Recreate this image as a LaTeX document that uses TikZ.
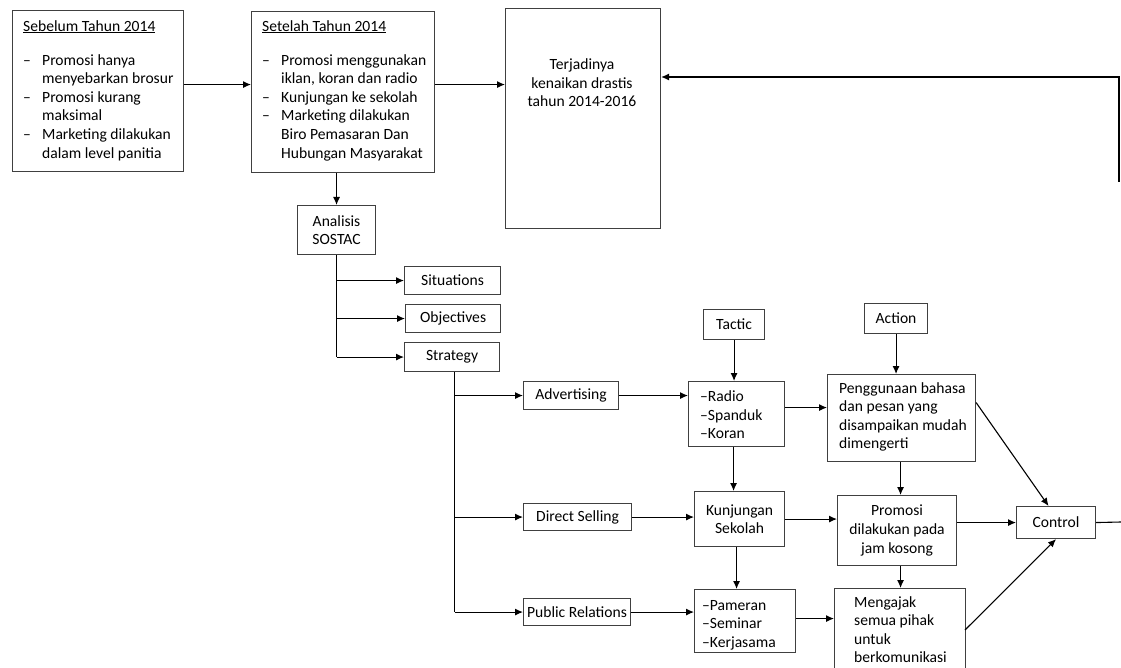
\documentclass[tikz,border=0pt]{standalone}
\usepackage{fontspec}
\setmainfont{Carlito}
\usetikzlibrary{arrows.meta,calc}
\newcommand{\dsh}{\makebox[19pt][l]{–}}
\newcommand{\ind}{\hspace*{19pt}}
\begin{document}
\begin{tikzpicture}[x=1pt,y=-1pt,
  every node/.style={font=\fontsize{15.6}{18.6}\selectfont},
  box/.style={draw=black!75,line width=1.1pt,anchor=north west,inner sep=0pt},
  txt/.style={inner sep=0pt},
  arr/.style={line width=1.1pt,-{Latex[length=8pt,width=7pt]}},
  ln/.style={line width=1.1pt}]
\fill[white] (0,0) rectangle (1121,668);
\useasboundingbox (0,0) rectangle (1121,668);

% top row
\node[box,minimum width=171pt,minimum height=161pt] (sebelum) at (12,10) {};
\node[txt,anchor=north west,align=left] (sebelumtxt) at (23,20)
 {\underline{Sebelum Tahun 2014}\\[15.5pt]
  \dsh Promosi hanya\\ \ind menyebarkan brosur\\
  \dsh Promosi kurang\\ \ind maksimal\\
  \dsh Marketing dilakukan\\ \ind dalam level panitia};
\node[box,minimum width=183pt,minimum height=161pt] (setelah) at (251,11) {};
\node[txt,anchor=north west,align=left] (setelahtxt) at (262,20)
 {\underline{Setelah Tahun 2014}\\[15.5pt]
  \dsh Promosi menggunakan\\ \ind iklan, koran dan radio\\
  \dsh Kunjungan ke sekolah\\
  \dsh Marketing dilakukan\\ \ind Biro Pemasaran Dan\\ \ind Hubungan Masyarakat};
\node[box,minimum width=155pt,minimum height=220pt] (terjadi) at (505,8) {};
\node[txt,align=center] (terjaditxt) at (582,83) {Terjadinya\\kenaikan drastis\\tahun 2014-2016};

% SOSTAC
\node[box,minimum width=78pt,minimum height=49pt,align=center] (analisis) at (297,205) {Analisis\\SOSTAC};
\node[box,minimum width=96pt,minimum height=28pt] (situations) at (404,266) {Situations};
\node[box,minimum width=95pt,minimum height=28pt] (objectives) at (405,304) {Objectives};
\node[box,minimum width=95pt,minimum height=29pt] (strategy) at (404,342) {Strategy};

% tactic / action
\node[box,minimum width=61pt,minimum height=30pt] (tactic) at (703,309) {Tactic};
\node[box,minimum width=63pt,minimum height=30pt] (action) at (864,303) {Action};

\node[box,minimum width=95pt,minimum height=28pt] (advertising) at (523,381) {Advertising};
\node[box,minimum width=96pt,minimum height=65pt] (radio) at (688,381) {};
\node[txt,anchor=west,align=left] (radiotxt) at (700,415) {–Radio\\–Spanduk\\–Koran};
\node[box,minimum width=148pt,minimum height=87pt] (penggunaan) at (827,374) {};
\node[txt,anchor=west,align=left] (penggunaantxt) at (839,417) {Penggunaan bahasa\\dan pesan yang\\disampaikan mudah\\dimengerti};

\node[box,minimum width=108pt,minimum height=27pt] (direct) at (523,503) {Direct Selling};
\node[box,minimum width=90pt,minimum height=55pt,align=center] (kunjungan) at (694,491) {Kunjungan\\Sekolah};
\node[box,minimum width=119pt,minimum height=70pt,align=center] (promosi) at (837,495) {Promosi\\dilakukan pada\\jam kosong};
\node[box,minimum width=79pt,minimum height=32pt] (control) at (1016,506) {Control};

\node[box,minimum width=107pt,minimum height=27pt] (public) at (523,598) {Public Relations};
\node[box,minimum width=101pt,minimum height=63pt] (pameran) at (694,589) {};
\node[txt,anchor=west,align=left] (pamerantxt) at (702,625) {–Pameran\\–Seminar\\–Kerjasama};
\node[box,minimum width=131pt,minimum height=100pt] (mengajak) at (834,588) {};
\node[txt,anchor=north west,align=left] (mengajaktxt) at (854,596) {Mengajak\\semua pihak\\untuk\\berkomunikasi};

% connectors top
\coordinate (a1) at ([yshift=6.5pt]sebelum.east);
\draw[arr] (a1) -- (a1 -| setelah.west);
\coordinate (a2) at ([yshift=7.5pt]setelah.east);
\draw[arr] (a2) -- (a2 -| terjadi.west);
\draw[arr] (analisis.north |- setelah.south) -- (analisis.north);

% feedback
\coordinate (fb1) at (1119,182);
\coordinate (fb2) at (1119,77);
\draw[arr] (fb1) -- (fb2) -- (fb2 -| terjadi.east);

% SOSTAC branches
\draw[ln] (analisis.south) -- (analisis.south |- strategy.west);
\draw[arr] (analisis.south |- situations.west) -- (situations.west);
\draw[arr] (analisis.south |- objectives.west) -- (objectives.west);
\draw[arr] (analisis.south |- strategy.west) -- (strategy.west);

% strategy branches
\coordinate (sx) at ([xshift=2.5pt]strategy.south);
\draw[ln] (sx) -- (sx |- public.west);
\draw[arr] (sx |- advertising.west) -- (advertising.west);
\draw[arr] (sx |- direct.west) -- (direct.west);
\draw[arr] (sx |- public.west) -- (public.west);

% advertising row
\draw[arr] (advertising.east) -- (advertising.east -| radio.west);
\draw[arr] (tactic.south) -- (tactic.south |- radio.north);
\draw[arr] (action.south) -- (action.south |- penggunaan.north);
\coordinate (r1) at ([yshift=6.5pt]radio.east);
\draw[arr] (r1) -- (r1 -| penggunaan.west);
\coordinate (r2) at ([xshift=-3pt]radio.south);
\draw[arr] (r2) -- (r2 |- kunjungan.north);
\coordinate (p1) at ([xshift=-1pt]penggunaan.south);
\draw[arr] (p1) -- (p1 |- promosi.north);
\coordinate (p2) at ([yshift=15.5pt]penggunaan.east);
\coordinate (c1) at ([xshift=-7.5pt]control.north);
\draw[arr] (p2) -- (c1);

% direct selling row
\draw[arr] (direct.east) -- (direct.east -| kunjungan.west);
\draw[arr] (kunjungan.east) -- (kunjungan.east -| promosi.west);
\coordinate (k1) at ([xshift=-3pt]kunjungan.south);
\draw[arr] (k1) -- (k1 |- pameran.north);
\draw[arr] (promosi.east |- control.west) -- (control.west);
\coordinate (pr1) at ([xshift=3.5pt]promosi.south);
\draw[arr] (pr1) -- (pr1 |- mengajak.north);
\coordinate (ctrlout) at (1121,522);
\draw[ln] (control.east) -- (ctrlout);

% public relations row
\draw[arr] (public.east) -- (public.east -| pameran.west);
\coordinate (pm1) at ([yshift=2.5pt]pameran.east);
\draw[arr] (pm1) -- (pm1 -| mengajak.west);
\coordinate (m1) at (965,630);
\draw[arr] (m1) -- (control.south);
\end{tikzpicture}
\end{document}
